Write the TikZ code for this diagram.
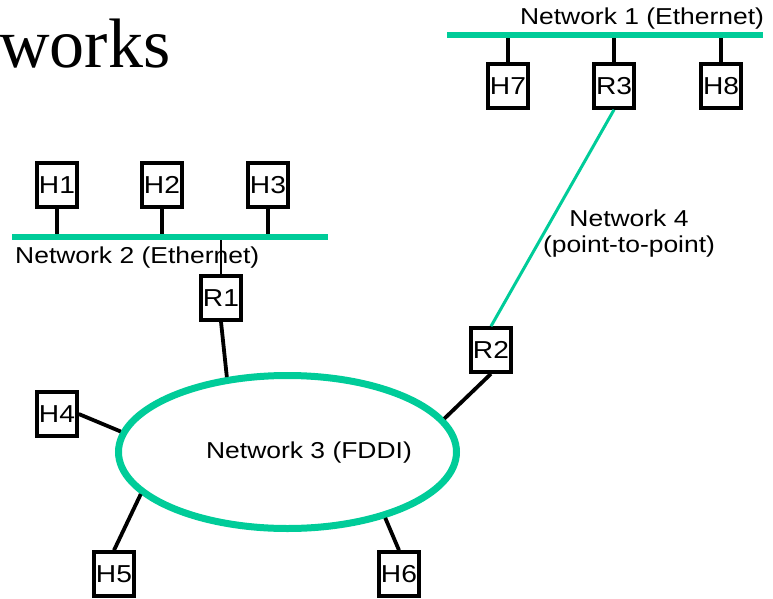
\documentclass[tikz,border=0pt]{standalone}
\usepackage{fontspec}
\usepackage{graphicx}
\setmainfont{Liberation Sans}
\newfontfamily\titlefont{Liberation Serif}
\usetikzlibrary{shapes.geometric}
\definecolor{netgreen}{RGB}{0,204,153}
\newcommand{\wide}[1]{\scalebox{1.15}[1]{#1}}
\tikzset{
  hostbox/.style={draw=black, line width=3.5pt, fill=white, minimum width=40pt, minimum height=44pt, inner sep=0pt, font=\fontsize{24.5}{27}\selectfont},
  lbl/.style={inner sep=0pt, font=\fontsize{23}{26}\selectfont, align=center},
  bus/.style={draw=netgreen, line width=5.5pt},
  link/.style={draw=black, line width=3.8pt},
  thinlink/.style={draw=black, line width=1.5pt},
  p2p/.style={draw=netgreen, line width=3pt}
}
\begin{document}
\begin{tikzpicture}[x=1pt,y=-1pt]
\useasboundingbox (0,0) rectangle (773,599);
% title fragment
\node[anchor=base west, inner sep=0pt, font=\titlefont\fontsize{70}{80}\selectfont] (title) at (-1,68) {works};
% Network 1
\coordinate (n1l) at (447,35);
\coordinate (n1r) at (763,35);
\node[lbl] (n1lbl) at (642,19) {\wide{Network 1 (Ethernet)}};
\node[hostbox] (H7) at (508,86) {\wide{H7}};
\node[hostbox] (R3) at (614,86) {\wide{R3}};
\node[hostbox] (H8) at (721,86) {\wide{H8}};
\draw[link] (H7.north) -- (H7.north |- n1l);
\draw[link] (R3.north) -- (R3.north |- n1l);
\draw[link] (H8.north) -- (H8.north |- n1l);
\draw[bus] (n1l) -- (n1r);
% Network 2
\coordinate (n2l) at (12,237);
\coordinate (n2r) at (328,237);
\node[hostbox] (H1) at (57,185) {\wide{H1}};
\node[hostbox] (H2) at (162,185) {\wide{H2}};
\node[hostbox] (H3) at (268,185) {\wide{H3}};
\draw[link] (H1.south) -- (H1.south |- n2l);
\draw[link] (H2.south) -- (H2.south |- n2l);
\draw[link] (H3.south) -- (H3.south |- n2l);
\node[lbl, anchor=west] (n2lbl) at (15,258) {\wide{Network 2 (Ethernet)}};
\node[hostbox] (R1) at (221,298) {\wide{R1}};
\draw[thinlink] (R1.north) -- (R1.north |- n2l);
\draw[bus] (n2l) -- (n2r);
% Network 3 ring
\node[ellipse, draw=netgreen, line width=7pt, minimum width=338pt, minimum height=153pt, inner sep=0pt] (ring) at (287.5,452) {};
\node[lbl] (n3lbl) at (309,453) {\wide{Network 3 (FDDI)}};
\node[hostbox] (R2) at (491,350) {\wide{R2}};
\node[hostbox] (H4) at (57,414) {\wide{H4}};
\node[hostbox] (H5) at (114,574) {\wide{H5}};
\node[hostbox] (H6) at (399,574) {\wide{H6}};
\draw[link] (R1.south) -- (ring.129);
\draw[link] (R2.south) -- (ring.12);
\draw[link] (H4.east) -- (ring.173);
\draw[link] (H5.north) -- (ring.196);
\draw[link] (H6.north) -- (ring.-34);
% Network 4
\draw[p2p] (R3.south) -- (R2.north);
\node[lbl] (n4lbl) at (629,234) {\wide{Network 4}\\\wide{(point-to-point)}};
\end{tikzpicture}
\end{document}
